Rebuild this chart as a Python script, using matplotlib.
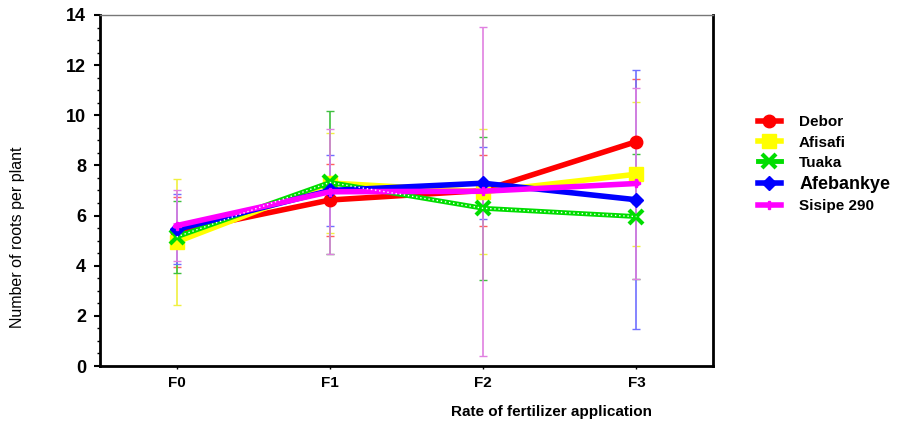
import matplotlib
matplotlib.use("Agg")
import matplotlib.pyplot as plt
from matplotlib.ticker import MultipleLocator

plt.rcParams["font.family"] = ["Liberation Sans", "DejaVu Sans"]

rates = ["F0", "F1", "F2", "F3"]

debor = [5.35, 6.62, 7.0, 8.95]
debor_err = [1.4, 1.42, 1.4, 2.5]
afisafi = [4.95, 7.3, 6.95, 7.65]
afisafi_err = [2.5, 2.0, 2.5, 2.86]
tuaka = [5.15, 7.32, 6.29, 5.96]
tuaka_err = [1.44, 2.85, 2.86, 2.5]
afebankye = [5.45, 7.0, 7.29, 6.63]
afebankye_err = [1.4, 1.4, 1.43, 5.17]
sisipe = [5.6, 6.95, 6.97, 7.28]
sisipe_err = [1.43, 2.5, 6.57, 3.8]

series = [
    ("Debor", debor, debor_err, "#ff0000", "o", 9),
    ("Afisafi", afisafi, afisafi_err, "#ffff00", "s", 10),
    ("Tuaka", tuaka, tuaka_err, "#00dd00", "x", 10),
    ("Afebankye", afebankye, afebankye_err, "#0000ff", "D", 7),
    ("Sisipe 290", sisipe, sisipe_err, "#ff00ff", "P", 6),
]
err_colors = ["#ff6060", "#f0f040", "#40c040", "#7070ff", "#e080e0"]

fig = plt.figure(figsize=(9.22, 4.22), dpi=100)
ax = fig.add_axes([0.1085, 0.1327, 0.6649, 0.8318])
x = list(range(len(rates)))

# error bars first so the lines sit on top
for (name, vals, errs, col, mk, ms), ecol in zip(series, err_colors):
    ax.errorbar(x, vals, yerr=errs, fmt="none", ecolor=ecol, elinewidth=1.2,
                capsize=3, capthick=1, zorder=2)

handles = []
for name, vals, errs, col, mk, ms in series:
    mew = 3 if mk == "x" else 1
    h, = ax.plot(x, vals, color=col, lw=4 if name != "Tuaka" else 3.5,
                 marker=mk, markersize=ms, markeredgewidth=mew,
                 markeredgecolor=col, label=name, zorder=3)
    if name == "Tuaka":
        ax.plot(x, vals, color="white", lw=1, ls=(0, (1, 2)), zorder=3.5)
    handles.append(h)

ax.set_xlim(-0.5, 3.5)
ax.set_ylim(0, 14)
ax.set_xticks(x)
ax.set_xticklabels(rates, fontsize=11, fontweight="bold")
ax.yaxis.set_major_locator(MultipleLocator(2))
ax.yaxis.set_minor_locator(MultipleLocator(0.5))
ax.tick_params(axis="y", which="major", length=4, width=1.5, labelsize=13, pad=6)
ax.tick_params(axis="y", which="minor", length=2, width=1)
ax.tick_params(axis="x", length=2, width=1, pad=5)
for lbl in ax.get_yticklabels():
    lbl.set_fontweight("bold")

for side in ["left", "bottom", "right"]:
    ax.spines[side].set_linewidth(2)
    ax.spines[side].set_color("black")
ax.spines["top"].set_linewidth(1)
ax.spines["top"].set_color("#777777")

ax.set_ylabel("Number of roots per plant", fontsize=11.5)
ax.yaxis.set_label_coords(-0.122, 0.367)
fig.text(0.598, 0.024, "Rate of fertilizer application", fontsize=11,
         fontweight="bold", ha="center", va="center")

leg = fig.legend(handles=handles, loc="upper left", bbox_to_anchor=(0.807, 0.759),
                 frameon=False, handlelength=1.5, handletextpad=1.2,
                 labelspacing=0.4, prop={"weight": "bold", "size": 11})
leg.get_texts()[3].set_fontsize(13)

fig.savefig("out.png", dpi=100)
